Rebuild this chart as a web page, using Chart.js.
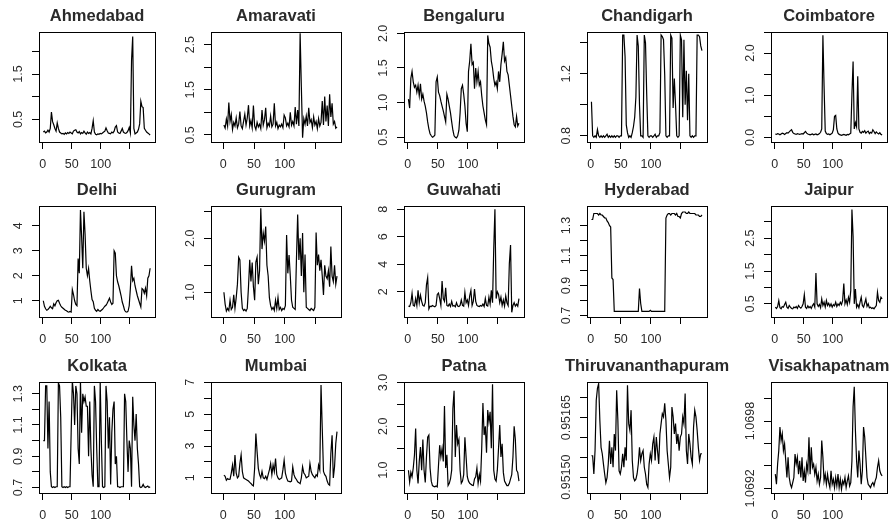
<!DOCTYPE html>
<html>
<head>
<meta charset="utf-8">
<script src="https://cdn.jsdelivr.net/npm/chart.js@4.4.1/dist/chart.umd.min.js"></script>
<style>
  html, body { margin: 0; padding: 0; background: #fff; }
  #page { position: relative; width: 894px; height: 527px; overflow: hidden; background: #fff; }
  #page canvas { position: absolute; }
</style>
</head>
<body>
<div id="page"></div>
<script>
// ============================================
// DATA (one value every second day)
// ============================================
const xDays = [1,3,5,7,9,11,13,15,17,19,21,23,25,27,29,31,33,35,37,39,41,43,45,47,49,51,53,55,57,59,
  61,63,65,67,69,71,73,75,77,79,81,83,85,87,89,91,93,95,97,99,101,103,105,107,109,111,113,115,117,119,
  121,123,125,127,129,131,133,135,137,139,141,143,145,147,149,151,153,155,157,159,161,163,165,167,169,171,173,175,177,179,
  181,183,185];

const cities = ['Ahmedabad', 'Amaravati', 'Bengaluru', 'Chandigarh', 'Coimbatore',
  'Delhi', 'Gurugram', 'Guwahati', 'Hyderabad', 'Jaipur',
  'Kolkata', 'Mumbai', 'Patna', 'Thiruvananthapuram', 'Visakhapatnam'];

const ahmedabad = [0.22,0.24,0.20,0.22,0.26,0.22,0.30,0.66,0.45,0.38,
  0.30,0.24,0.42,0.30,0.22,0.20,0.18,0.19,0.17,0.20,
  0.18,0.21,0.19,0.22,0.20,0.18,0.24,0.26,0.27,0.22,
  0.20,0.23,0.18,0.21,0.19,0.24,0.20,0.17,0.22,0.19,
  0.21,0.18,0.30,0.47,0.22,0.17,0.16,0.18,0.17,0.19,
  0.18,0.20,0.22,0.24,0.31,0.25,0.20,0.19,0.18,0.22,
  0.20,0.24,0.33,0.36,0.22,0.20,0.19,0.24,0.30,0.22,
  0.20,0.19,0.21,0.25,0.32,0.20,1.80,2.33,0.30,0.18,
  0.20,0.22,0.28,0.40,0.90,0.78,0.76,0.30,0.26,0.22,
  0.20,0.18,0.15];

const amaravati = [0.72,0.65,0.85,0.70,1.22,0.80,0.95,0.62,0.78,0.70,
  0.88,0.66,0.74,1.02,0.70,0.64,0.80,0.96,0.72,0.88,
  1.16,0.70,0.82,0.66,1.15,0.70,0.62,0.78,0.68,0.74,
  0.64,1.05,0.72,0.84,1.10,0.66,0.76,0.70,0.92,0.68,
  0.74,1.20,0.70,0.78,0.64,0.72,0.68,0.74,0.66,0.94,
  0.88,0.70,0.76,0.68,1.00,0.72,0.80,0.70,1.12,0.74,
  1.05,0.70,2.75,1.56,0.44,0.86,0.74,0.92,0.70,1.10,
  0.78,0.84,0.66,0.90,0.72,0.80,0.64,0.86,0.70,0.78,
  1.25,0.72,1.35,0.80,1.15,0.70,1.40,0.90,1.20,0.74,
  0.80,0.65,0.68];

const bengaluru = [1.05,0.92,1.35,1.45,1.30,1.22,1.25,1.15,1.25,1.10,
  1.27,1.05,1.12,1.02,0.95,0.85,0.72,0.62,0.55,0.52,
  0.50,0.51,0.53,1.30,1.37,1.15,1.10,1.02,0.95,0.88,
  0.80,0.72,1.12,1.05,0.95,0.85,0.72,0.60,0.52,0.50,
  0.49,0.52,0.60,0.85,1.20,1.25,1.12,0.95,0.70,0.58,
  1.45,1.60,1.85,1.55,1.58,1.20,1.50,1.30,1.45,1.25,
  1.30,1.10,0.95,0.85,0.75,0.68,1.97,1.85,1.80,1.60,
  1.50,1.35,1.25,1.30,1.20,1.45,1.30,1.55,1.70,1.88,
  1.60,1.65,1.45,1.40,1.25,1.10,0.95,0.80,0.68,0.65,
  0.80,0.66,0.70];

const chandigarh = [1.02,0.80,0.79,0.80,0.79,0.84,0.80,0.79,0.80,0.79,
  0.80,0.79,0.80,0.81,0.79,0.80,0.79,0.80,0.79,0.80,
  0.79,0.80,0.80,0.79,0.80,0.80,1.45,1.45,1.31,0.87,
  0.82,0.79,0.80,0.79,0.82,0.86,0.92,1.05,1.45,1.38,
  1.00,0.80,0.80,0.79,1.45,1.40,1.07,0.80,0.79,0.80,
  0.80,0.79,0.80,0.81,0.79,0.80,0.80,0.82,1.45,1.44,
  1.42,1.19,0.80,0.79,0.80,0.80,1.45,1.43,0.98,1.17,
  1.00,0.80,0.79,0.80,1.45,1.42,0.92,1.42,1.00,1.22,
  0.90,1.20,0.80,0.79,0.80,0.79,0.80,0.80,1.45,1.45,
  1.44,1.38,1.35];

const coimbatore = [0.08,0.07,0.09,0.08,0.06,0.08,0.10,0.09,0.07,0.09,
  0.11,0.10,0.13,0.16,0.18,0.12,0.09,0.08,0.07,0.09,
  0.08,0.07,0.08,0.09,0.08,0.11,0.14,0.10,0.08,0.07,
  0.06,0.07,0.08,0.06,0.07,0.08,0.06,0.07,0.09,0.12,
  0.20,2.42,1.22,0.15,0.09,0.07,0.08,0.06,0.08,0.10,
  0.18,0.50,0.52,0.20,0.10,0.07,0.06,0.05,0.06,0.07,
  0.06,0.05,0.07,0.06,0.08,0.10,1.02,1.80,0.20,0.35,
  0.25,1.45,0.20,0.12,0.10,0.14,0.12,0.16,0.10,0.13,
  0.15,0.09,0.12,0.10,0.18,0.14,0.09,0.13,0.10,0.08,
  0.11,0.07,0.06];

const delhi = [1.00,0.78,0.68,0.62,0.65,0.70,0.78,0.72,0.68,0.88,
  0.80,0.92,1.00,1.02,0.90,0.80,0.74,0.70,0.66,0.62,
  0.60,0.56,0.55,0.57,0.55,1.45,1.25,1.00,0.85,0.80,
  2.69,2.10,4.63,3.56,2.30,4.56,3.65,2.30,2.00,2.29,
  1.80,1.40,1.05,0.96,0.70,0.62,0.58,0.65,0.60,0.58,
  0.62,0.66,0.72,0.78,0.82,0.90,1.00,1.10,0.95,0.85,
  0.90,3.00,2.90,2.00,1.76,1.60,1.40,1.20,0.95,0.80,
  0.62,0.56,0.55,0.58,0.80,1.50,2.40,1.80,1.90,1.60,
  1.40,1.20,1.05,0.90,0.75,1.49,1.45,1.30,1.50,1.20,
  1.90,2.00,2.30];

const gurugram = [1.00,0.78,0.65,0.70,0.66,0.85,0.68,0.72,0.95,0.70,
  0.90,1.15,1.65,1.60,1.00,0.70,0.66,0.68,0.65,0.70,
  1.10,1.60,1.20,1.55,1.10,0.85,1.56,1.65,1.15,1.40,
  2.56,1.80,2.10,1.95,2.22,1.50,1.30,0.90,0.75,0.68,
  0.72,0.66,0.85,0.70,0.90,0.68,0.72,0.66,0.70,0.68,
  0.75,2.06,1.35,1.69,1.30,0.85,0.72,0.70,0.68,1.60,
  2.44,1.60,2.00,1.30,2.10,1.00,1.70,0.72,0.70,0.68,
  0.66,0.70,0.68,0.66,0.72,2.11,1.50,1.70,1.40,1.60,
  1.30,0.95,1.50,1.30,1.25,1.40,1.10,1.85,1.30,1.20,
  1.50,1.15,1.30];

const guwahati = [0.95,0.92,1.20,1.88,1.00,0.95,1.50,1.00,2.10,1.20,
  1.75,1.30,1.00,0.95,1.20,2.50,3.02,0.75,0.95,0.92,
  1.00,0.95,0.90,1.00,1.80,1.90,1.50,1.00,2.78,1.50,
  1.30,2.29,1.00,0.95,1.10,0.92,1.30,0.95,1.00,0.90,
  1.20,0.95,0.92,1.00,1.40,1.00,0.95,1.95,1.20,1.40,
  1.00,1.70,2.10,1.00,1.30,2.20,1.30,1.00,0.95,0.92,
  1.00,0.95,1.10,0.92,1.50,1.00,0.95,1.60,1.10,2.10,
  1.20,5.10,8.00,1.50,2.00,1.80,1.20,1.60,1.00,1.40,
  0.95,1.70,1.20,1.00,4.06,5.40,0.50,1.00,1.20,0.95,
  1.10,0.95,1.50];

const hyderabad = [1.34,1.34,1.38,1.38,1.38,1.38,1.37,1.38,1.37,1.37,
  1.36,1.35,1.35,1.33,1.32,1.30,1.29,0.95,0.94,0.727,
  0.727,0.727,0.727,0.727,0.727,0.727,0.727,0.727,0.727,0.727,
  0.727,0.727,0.727,0.727,0.727,0.727,0.727,0.727,0.727,0.727,
  0.88,0.78,0.727,0.727,0.727,0.727,0.727,0.727,0.727,0.735,
  0.727,0.727,0.727,0.727,0.727,0.727,0.727,0.727,0.727,0.727,
  0.727,0.727,1.35,1.37,1.38,1.38,1.37,1.38,1.38,1.38,
  1.37,1.38,1.36,1.36,1.35,1.38,1.39,1.39,1.39,1.38,
  1.38,1.39,1.38,1.38,1.38,1.38,1.38,1.37,1.37,1.37,
  1.36,1.36,1.37];

const jaipur = [0.40,0.36,0.42,0.60,0.38,0.35,0.42,0.40,0.48,0.55,
  0.40,0.36,0.45,0.40,0.36,0.35,0.40,0.38,0.42,0.36,
  0.45,0.40,0.37,0.42,0.50,0.78,0.40,0.36,0.44,0.38,
  0.42,0.36,0.45,0.50,0.40,1.44,0.50,0.42,0.48,0.38,
  0.65,0.45,0.55,0.40,0.60,0.45,0.52,0.42,0.50,0.40,
  0.48,0.44,0.55,0.42,0.50,0.45,0.55,0.48,0.60,1.12,
  0.50,0.62,0.48,0.70,0.55,0.91,3.37,2.55,0.50,0.95,
  0.40,0.48,0.38,0.55,0.70,0.45,0.40,0.52,0.65,0.42,
  0.50,0.38,0.40,0.36,0.38,0.35,0.40,0.45,0.85,0.60,
  0.55,0.70,0.65];

const kolkata = [1.00,1.00,1.35,1.35,0.95,1.25,0.80,0.705,0.70,0.705,
  0.70,0.705,0.705,1.37,1.35,1.15,0.705,0.70,0.705,0.70,
  0.705,0.70,0.705,0.705,1.05,1.38,1.30,1.10,1.35,1.30,
  0.95,0.85,1.38,1.05,1.30,1.25,1.28,1.22,1.22,0.90,
  1.25,0.95,0.78,0.705,1.35,1.25,0.95,0.705,0.705,1.38,
  1.00,0.705,0.70,0.705,1.35,1.25,0.95,1.15,0.72,1.05,
  1.20,1.25,0.85,0.90,0.705,0.705,0.70,0.705,0.705,0.705,
  1.30,1.25,1.00,0.80,1.00,0.95,0.705,1.28,1.10,1.00,
  1.17,0.95,0.85,0.705,0.70,0.705,0.72,0.705,0.70,0.705,
  0.71,0.70,0.705];

const mumbai = [1.17,1.10,0.85,0.95,0.90,0.92,1.30,1.80,1.10,2.43,
  1.30,1.00,1.10,1.90,2.45,1.40,1.00,0.95,0.90,0.85,
  0.80,0.72,0.65,0.55,0.50,1.60,3.79,2.64,1.60,1.20,
  1.00,1.40,1.00,0.95,1.10,0.90,1.20,1.50,1.90,1.20,
  1.80,1.40,2.22,1.20,1.00,0.90,0.95,1.00,1.50,2.11,
  1.30,1.00,0.80,0.78,0.75,0.80,1.69,1.20,1.00,0.90,
  0.75,0.70,0.64,1.00,1.70,1.30,1.20,1.00,1.05,1.10,
  1.90,1.40,1.20,1.10,1.00,1.20,1.10,1.80,1.50,6.83,
  4.10,1.40,1.20,1.10,0.80,0.60,0.54,2.53,3.68,1.00,
  1.70,3.16,3.90];

const patna = [1.00,0.73,0.95,0.85,1.05,1.34,1.95,1.00,0.70,1.20,
  1.53,1.00,1.70,1.00,0.72,1.30,1.75,1.80,1.05,0.75,
  0.65,0.63,0.62,0.64,0.62,1.10,1.57,1.30,1.50,1.20,
  2.46,1.05,1.35,0.65,0.70,0.80,1.00,2.41,2.81,1.30,
  2.03,1.60,1.70,1.00,0.70,0.75,0.90,1.75,1.30,0.85,
  0.75,0.70,0.68,0.66,0.65,0.80,0.85,1.05,0.70,0.90,
  0.75,1.50,2.53,1.80,2.00,1.40,2.37,2.10,2.33,1.50,
  2.96,1.00,0.80,0.75,1.00,1.50,2.03,1.30,1.60,0.95,
  0.75,0.70,0.65,0.65,0.70,0.80,0.90,1.30,2.00,1.70,
  1.00,0.95,0.75];

const thiruvananthapuram = [0.951554,0.951554,0.951508,0.951567,0.951694,0.951724,0.951736,0.951643,0.951575,0.951559,
  0.951533,0.951508,0.951486,0.951499,0.951533,0.951592,0.951533,0.951575,0.951525,0.951609,
  0.951567,0.951719,0.951643,0.951516,0.951508,0.951525,0.951559,0.951525,0.951575,0.951542,
  0.951732,0.951635,0.951618,0.951669,0.951542,0.951499,0.951491,0.951495,0.951508,0.951533,
  0.951575,0.951542,0.951559,0.951567,0.951525,0.951508,0.951482,0.951474,0.951533,0.951559,
  0.951542,0.951584,0.951601,0.951542,0.951601,0.951567,0.951533,0.951609,0.951635,0.951660,
  0.951652,0.951686,0.951643,0.951567,0.951533,0.951499,0.951525,0.951677,0.951652,0.951609,
  0.951635,0.951584,0.951609,0.951567,0.951601,0.951609,0.951652,0.951635,0.951711,0.951567,
  0.951533,0.951609,0.951584,0.951550,0.951533,0.951626,0.951669,0.951652,0.951618,0.951575,
  0.951542,0.951559,0.951559];

const visakhapatnam = [1.069326,1.069236,1.069416,1.069536,1.069746,1.069626,1.069686,1.069536,1.069596,1.069446,
  1.069296,1.069476,1.069296,1.069236,1.069206,1.069251,1.069296,1.069506,1.069416,1.069476,
  1.069326,1.069446,1.069296,1.069476,1.069266,1.069356,1.069251,1.069416,1.069356,1.069656,
  1.069326,1.069566,1.069386,1.069416,1.069326,1.069386,1.069266,1.069326,1.069236,1.069296,
  1.069626,1.069476,1.069266,1.069326,1.069236,1.069326,1.069251,1.069206,1.069356,1.069236,
  1.069281,1.069206,1.069296,1.069221,1.069326,1.069206,1.069281,1.069191,1.069266,1.069236,
  1.069296,1.069206,1.069266,1.069311,1.069221,1.069251,1.069446,1.069926,1.070106,1.069716,
  1.069446,1.069296,1.069536,1.069416,1.069236,1.069356,1.069746,1.069656,1.069476,1.069296,
  1.069236,1.069221,1.069206,1.069236,1.069251,1.069221,1.069266,1.069296,1.069386,1.069446,
  1.069356,1.069326,1.069311];

const series = [ahmedabad, amaravati, bengaluru, chandigarh, coimbatore,
  delhi, gurugram, guwahati, hyderabad, jaipur,
  kolkata, mumbai, patna, thiruvananthapuram, visakhapatnam];

// axis limits and ticks for each panel (x limits per column)
const xLimits = [[-6.4, 193.4], [-20, 191.5], [-6.4, 193.4], [-6.4, 193.4], [-6.4, 193.4]];
const xTickValues = [0, 50, 100, 150];
const xTickLabels = ['0', '50', '100', ''];

const yLimits = [[0.0, 2.43], [0.345, 2.78], [0.43, 2.02], [0.76, 1.47], [-0.11, 2.5],
  [0.35, 4.79], [0.54, 2.6], [0.16, 8.24], [0.69, 1.43], [0.1, 3.48],
  [0.665, 1.375], [0.05, 7.02], [0.48, 3.01], [0.95146, 0.95174], [1.069158, 1.070148]];

const yTickValues = [[0.5, 1, 1.5, 2], [0.5, 1, 1.5, 2, 2.5], [0.5, 1, 1.5, 2], [0.8, 1, 1.2, 1.4], [0, 0.5, 1, 1.5, 2, 2.5],
  [1, 2, 3, 4], [1, 1.5, 2, 2.5], [2, 4, 6, 8], [0.7, 0.8, 0.9, 1.0, 1.1, 1.2, 1.3], [0.5, 1, 1.5, 2, 2.5, 3],
  [0.7, 0.8, 0.9, 1.0, 1.1, 1.2, 1.3], [1, 2, 3, 4, 5, 6, 7], [1, 1.5, 2, 2.5, 3],
  [0.9515, 0.95155, 0.9516, 0.95165, 0.9517], [1.0692, 1.0694, 1.0696, 1.0698, 1.07]];

const yTickLabels = [['0.5', '', '1.5', ''], ['0.5', '', '1.5', '', '2.5'], ['0.5', '1.0', '1.5', '2.0'], ['0.8', '', '1.2', ''], ['0.0', '', '1.0', '', '2.0', ''],
  ['1', '2', '3', '4'], ['1.0', '', '2.0', ''], ['2', '4', '6', '8'], ['0.7', '', '0.9', '', '1.1', '', '1.3'], ['0.5', '', '1.5', '', '2.5', ''],
  ['0.7', '', '0.9', '', '1.1', '', '1.3'], ['1', '', '3', '', '5', '', '7'], ['1.0', '', '2.0', '', '3.0'],
  ['0.95150', '', '', '0.95165', ''], ['1.0692', '', '', '1.0698', '']];

// ============================================
// LAYOUT (plot box edges in page pixels)
// ============================================
const colLeft = [39, 211, 404, 587, 771];
const colRight = [155, 341, 524, 707, 887];
const rowTop = [32, 206, 382];
const rowBottom = [142, 317, 493];
const FONT = '"Liberation Sans", Arial, Helvetica, sans-serif';
const TEXT = '#2a2a2a';

Chart.defaults.font.family = FONT;
Chart.defaults.font.size = 12;
Chart.defaults.color = TEXT;

// box, rotated y labels and title, in the style of base R graphics
const framePlugin = {
    id: 'frame',
    afterDraw(chart, args, opts) {
        const { ctx, chartArea: a, scales } = chart;
        ctx.save();
        ctx.strokeStyle = '#000';
        ctx.lineWidth = 1;
        ctx.strokeRect(Math.round(a.left) + 0.5, Math.round(a.top) + 0.5,
            Math.round(a.right - a.left), Math.round(a.bottom - a.top));

        ctx.fillStyle = TEXT;
        ctx.font = '12.5px ' + FONT;
        ctx.textAlign = 'center';
        ctx.textBaseline = 'alphabetic';
        opts.tickValues.forEach((v, i) => {
            const label = opts.tickLabels[i];
            if (!label) return;
            const y = scales.y.getPixelForValue(v);
            ctx.save();
            ctx.translate(a.left - 17, y);
            ctx.rotate(-Math.PI / 2);
            ctx.fillText(label, 0, 0);
            ctx.restore();
        });

        ctx.font = 'bold 16.5px ' + FONT;
        ctx.fillText(opts.title, (a.left + a.right) / 2, a.top - 11);
        ctx.restore();
    }
};

function drawPanel(p) {
    const col = p % 5;
    const row = Math.floor(p / 5);
    const boxW = colRight[col] - colLeft[col];
    const boxH = rowBottom[row] - rowTop[row];
    const padTop = 32, axisW = 40, axisH = 36, padRight = 40;
    const w = boxW + axisW + padRight;
    const h = boxH + padTop + axisH;

    const canvas = document.createElement('canvas');
    canvas.width = w;
    canvas.height = h;
    canvas.style.width = w + 'px';
    canvas.style.height = h + 'px';
    canvas.style.left = (colLeft[col] - axisW) + 'px';
    canvas.style.top = (rowTop[row] - padTop) + 'px';
    document.getElementById('page').appendChild(canvas);

    const values = series[p];
    new Chart(canvas.getContext('2d'), {
        type: 'line',
        data: {
            datasets: [{
                data: xDays.map((x, i) => ({ x: x, y: values[i] })),
                borderColor: '#000',
                borderWidth: 1.2,
                pointRadius: 0,
                tension: 0,
                fill: false
            }]
        },
        options: {
            responsive: false,
            animation: false,
            devicePixelRatio: 1,
            layout: { padding: { top: padTop, right: padRight, left: 0, bottom: 0 } },
            plugins: {
                legend: { display: false },
                tooltip: { enabled: false },
                frame: { title: cities[p], tickValues: yTickValues[p], tickLabels: yTickLabels[p] }
            },
            scales: {
                x: {
                    type: 'linear',
                    min: xLimits[col][0],
                    max: xLimits[col][1],
                    afterBuildTicks: (axis) => { axis.ticks = xTickValues.map(v => ({ value: v })); },
                    afterFit: (axis) => { axis.height = axisH; },
                    ticks: {
                        autoSkip: false,
                        maxRotation: 0,
                        minRotation: 0,
                        padding: 8,
                        color: TEXT,
                        font: { size: 12.5 },
                        callback: (value, index) => xTickLabels[index]
                    },
                    grid: { drawOnChartArea: false, drawTicks: true, tickLength: 7, color: '#000' },
                    border: { display: false }
                },
                y: {
                    type: 'linear',
                    min: yLimits[p][0],
                    max: yLimits[p][1],
                    afterBuildTicks: (axis) => { axis.ticks = yTickValues[p].map(v => ({ value: v })); },
                    afterFit: (axis) => { axis.width = axisW; },
                    ticks: { display: false },
                    grid: { drawOnChartArea: false, drawTicks: true, tickLength: 7, color: '#000' },
                    border: { display: false }
                }
            }
        },
        plugins: [framePlugin]
    });
}

cities.forEach((name, p) => drawPanel(p));
</script>
</body>
</html>
